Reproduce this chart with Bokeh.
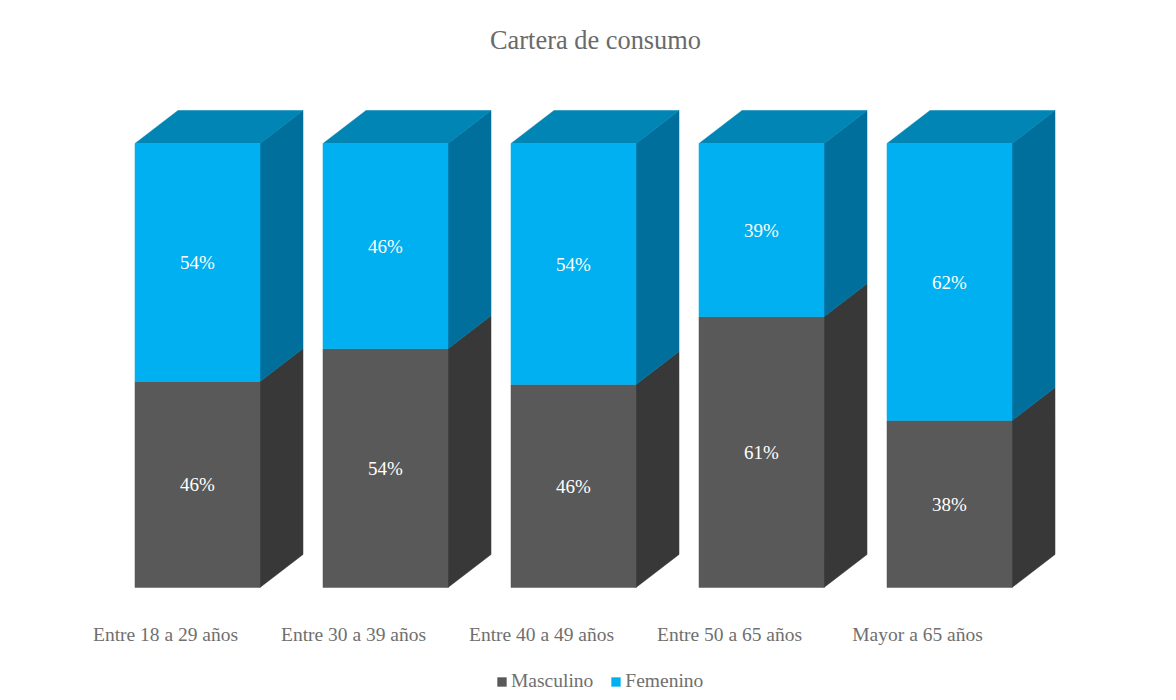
from bokeh.plotting import figure
from bokeh.models import ColumnDataSource, Range1d, FixedTicker, Legend, LegendItem
from bokeh.core.properties import value
from bokeh.embed import file_html
from bokeh.resources import INLINE

categorias = ["Entre 18 a 29 años", "Entre 30 a 39 años", "Entre 40 a 49 años", "Entre 50 a 65 años", "Mayor a 65 años"]
masculino = [46.4, 53.8, 45.7, 61.0, 37.6]
femenino = [53.6, 46.2, 54.3, 39.0, 62.4]
etiquetas_m = ["46%", "54%", "46%", "61%", "38%"]
etiquetas_f = ["54%", "46%", "54%", "39%", "62%"]

FONT = "Liberation Serif"
TEXT = "#6f6f6f"
W = 0.665     # bar width, in category units
DX = 0.2287   # 3D depth, in category units
DY = 7.43     # 3D depth, in percent units

xs = list(range(len(categorias)))
p = figure(width=1176, height=700, output_backend="svg", toolbar_location=None,
           x_range=Range1d(-0.9734, 5.2074), y_range=Range1d(-25.45, 118.92),
           min_border_left=14, min_border_right=0, min_border_top=0, min_border_bottom=0,
           title="Cartera de consumo", background_fill_color="white", border_fill_color="white",
           outline_line_color=None)
p.title.align = "center"
p.title.text_font = FONT
p.title.text_font_size = "26.4px"
p.title.text_font_style = "normal"
p.title.text_color = "#6a6a6a"
p.title.padding = (0, 0, 17, 0)
p.grid.visible = False
p.yaxis.visible = False

ax = p.xaxis[0]
ax.fixed_location = 0
ax.ticker = FixedTicker(ticks=[i - 0.17 for i in xs])
ax.major_label_overrides = {i - 0.17: c for i, c in zip(xs, categorias)}
ax.axis_line_color = None
ax.major_tick_line_color = None
ax.minor_tick_line_color = None
ax.major_label_standoff = 30
ax.major_label_text_font = FONT
ax.major_label_text_font_size = "19.5px"
ax.major_label_text_color = TEXT

def quad(x0, y0, y1):
    """Right side face of a stack segment."""
    return [x0, x0 + DX, x0 + DX, x0], [y0, y0 + DY, y1 + DY, y1]

side_x_m, side_y_m, side_x_f, side_y_f, top_x, top_y = [], [], [], [], [], []
for i, m, f in zip(xs, masculino, femenino):
    r = i + W / 2
    a, b = quad(r, 0, m)
    side_x_m.append(a); side_y_m.append(b)
    a, b = quad(r, m, m + f)
    side_x_f.append(a); side_y_f.append(b)
    top = m + f
    top_x.append([i - W / 2, i - W / 2 + DX, r + DX, r])
    top_y.append([top, top + DY, top + DY, top])

p.patches(side_x_m, side_y_m, fill_color="#383838", line_color="#383838", line_width=0.5)
p.patches(side_x_f, side_y_f, fill_color="#006F9C", line_color="#006F9C", line_width=0.5)
p.patches(top_x, top_y, fill_color="#0085B5", line_color="#0085B5", line_width=0.5)

src = ColumnDataSource(dict(x=xs, m=masculino, f=femenino, t=[a + b for a, b in zip(masculino, femenino)],
                            ym=[a / 2 for a in masculino], yf=[a + b / 2 for a, b in zip(masculino, femenino)],
                            lm=etiquetas_m, lf=etiquetas_f))
rm = p.vbar(x="x", top="m", bottom=0, width=W, source=src, fill_color="#595959", line_color="#595959", line_width=0.5)
rf = p.vbar(x="x", top="t", bottom="m", width=W, source=src, fill_color="#00B0F0", line_color="#00B0F0", line_width=0.5)

for col, lab in (("ym", "lm"), ("yf", "lf")):
    p.text(x="x", y=col, text=lab, source=src, text_align="center", text_baseline="middle",
           text_color="white", text_font=value(FONT), text_font_size="19px")

legend = Legend(items=[LegendItem(label="Masculino", renderers=[rm]), LegendItem(label="Femenino", renderers=[rf])],
                orientation="horizontal", location=(482, 8), border_line_color=None,
                background_fill_alpha=0, glyph_width=11, glyph_height=11, spacing=17,
                label_standoff=4, margin=0, padding=0,
                label_text_font=FONT, label_text_font_size="19.5px", label_text_color=TEXT)
p.add_layout(legend, "center")

open("out.html", "w").write(file_html(p, INLINE))
